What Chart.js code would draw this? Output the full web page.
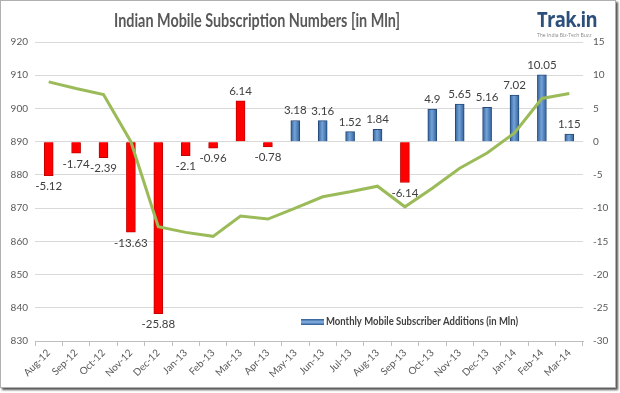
<!DOCTYPE html>
<html>
<head>
<meta charset="utf-8">
<script src="https://cdn.jsdelivr.net/npm/chart.js@4"></script>
<style>
  body { margin: 0; background: #fff; }
  #frame {
    position: absolute; left: 0; top: 0; width: 614px; height: 386px;
    border: 1px solid #b0b0b0; box-shadow: 2px 2px 2px #555; background: #fff;
  }
  #wrap { position: absolute; left: 0; top: 0; width: 620px; height: 393px; }
  #logo { position: absolute; left: 537px; top: 7px; font-family: "Open Sans", sans-serif; }
  #logo .name { font-size: 21px; font-weight: bold; color: #2c4f7c; letter-spacing: -0.8px; line-height: 24px;
                display: inline-block; transform: scaleX(0.88); transform-origin: left; }
  #logo .tag { font-size: 5px; color: #888; line-height: 6px; }
</style>
</head>
<body>
<div id="frame"></div>
<div id="wrap"><canvas id="chart" width="620" height="393"></canvas></div>
<div id="logo"><div class="name">Trak.in</div><div class="tag">The India Biz-Tech Buzz</div></div>
<script>
document.addEventListener("DOMContentLoaded", () => {
  // Data
  const months = ["Aug-12","Sep-12","Oct-12","Nov-12","Dec-12","Jan-13","Feb-13","Mar-13","Apr-13","May-13",
                  "Jun-13","Jul-13","Aug-13","Sep-13","Oct-13","Nov-13","Dec-13","Jan-14","Feb-14","Mar-14"];
  const additions = [-5.12,-1.74,-2.39,-13.63,-25.88,-2.1,-0.96,6.14,-0.78,3.18,
                     3.16,1.52,1.84,-6.14,4.9,5.65,5.16,7.02,10.05,1.15];
  const subscribers = [908,906,904.2,890,864.4,862.7,861.5,867.6,866.7,870,
                       873.4,874.9,876.6,870.4,876,882,886.6,892.6,903,904.5];
  const legendText = "Monthly Mobile Subscriber Additions (in Mln)";
  const titleText = "Indian Mobile Subscription Numbers [in Mln]";

  const FONT = "Lato";
  const grey = "#595959";

  function isRed(i) { return additions[i] < 0 || i < 9; }

  function barFill(ctx) {
    const i = ctx.dataIndex;
    if (isRed(i)) return "#ff0000";
    const chart = ctx.chart;
    const xs = chart.scales.x;
    if (!xs || xs.getPixelForValue(i) == null) return "#4a7ebb";
    const cx = xs.getPixelForValue(i);
    const g = chart.ctx.createLinearGradient(cx - 5, 0, cx + 5, 0);
    g.addColorStop(0, "#2b5a92");
    g.addColorStop(0.45, "#74a3da");
    g.addColorStop(1, "#2b5a92");
    return g;
  }

  // Value labels + title + legend
  const decor = {
    id: "decor",
    afterDatasetsDraw(chart) {
      const c = chart.ctx;
      const meta = chart.getDatasetMeta(1);
      c.save();
      c.font = "11.5px " + FONT;
      c.fillStyle = "#404040";
      c.textAlign = "center";
      meta.data.forEach((bar, i) => {
        const v = additions[i];
        if (v >= 0) {
          c.textBaseline = "bottom";
          c.fillText(String(v), bar.x, bar.y - 4);
        } else {
          c.textBaseline = "top";
          c.fillText(String(v), bar.x, bar.y + 5);
        }
      });
      // title
      c.font = "bold 18px " + FONT;
      c.fillStyle = grey;
      c.textAlign = "center";
      c.textBaseline = "middle";
      c.fillText(titleText, 257, 21, 286);
      // legend
      const lx = 301, ly = 322;
      const g = c.createLinearGradient(0, ly - 3, 0, ly + 3);
      g.addColorStop(0, "#2b5a92");
      g.addColorStop(0.5, "#8ab4e6");
      g.addColorStop(1, "#2b5a92");
      c.fillStyle = g;
      c.fillRect(lx, ly - 3, 23, 6);
      c.font = "bold 10.5px " + FONT;
      c.fillStyle = "#404040";
      c.textAlign = "left";
      c.fillText(legendText, lx + 25, ly, 192);
      c.restore();
    }
  };

  new Chart(document.getElementById("chart"), {
    data: {
      labels: months,
      datasets: [
        {
          type: "line",
          label: "Subscribers",
          data: subscribers,
          yAxisID: "y",
          borderColor: "#9bbb59",
          borderWidth: 3,
          pointRadius: 0,
          tension: 0,
          order: 0
        },
        {
          type: "bar",
          label: legendText,
          data: additions,
          yAxisID: "y2",
          backgroundColor: barFill,
          borderColor: ctx => isRed(ctx.dataIndex) ? "#c00000" : "#23497a",
          borderWidth: 1,
          barThickness: 9,
          order: 1
        }
      ]
    },
    options: {
      responsive: false,
      animation: false,
      layout: { padding: { top: 42, left: 0, right: 0, bottom: 0 } },
      plugins: { legend: { display: false }, tooltip: { enabled: false } },
      scales: {
        x: {
          offset: true,
          grid: { drawOnChartArea: false, drawTicks: true, tickLength: 5, color: "#bfbfbf", offset: true },
          border: { display: true, color: "#bfbfbf" },
          ticks: { minRotation: 45, maxRotation: 45, padding: 1, color: grey, font: { family: FONT, size: 10 } },
          afterFit(s) { s.height = 52; }
        },
        y: {
          position: "left",
          min: 830, max: 920,
          ticks: { stepSize: 10, padding: 7, color: grey, font: { family: FONT, size: 10 } },
          grid: { color: "#d9d9d9", drawTicks: false },
          border: { display: false },
          afterFit(s) { s.width = 35; }
        },
        y2: {
          position: "right",
          min: -30, max: 15,
          ticks: { stepSize: 5, padding: 10, color: grey, font: { family: FONT, size: 10 } },
          grid: { drawOnChartArea: false, drawTicks: false },
          border: { display: false },
          afterFit(s) { s.width = 37; }
        }
      }
    },
    plugins: [decor]
  });
});
</script>
</body>
</html>
